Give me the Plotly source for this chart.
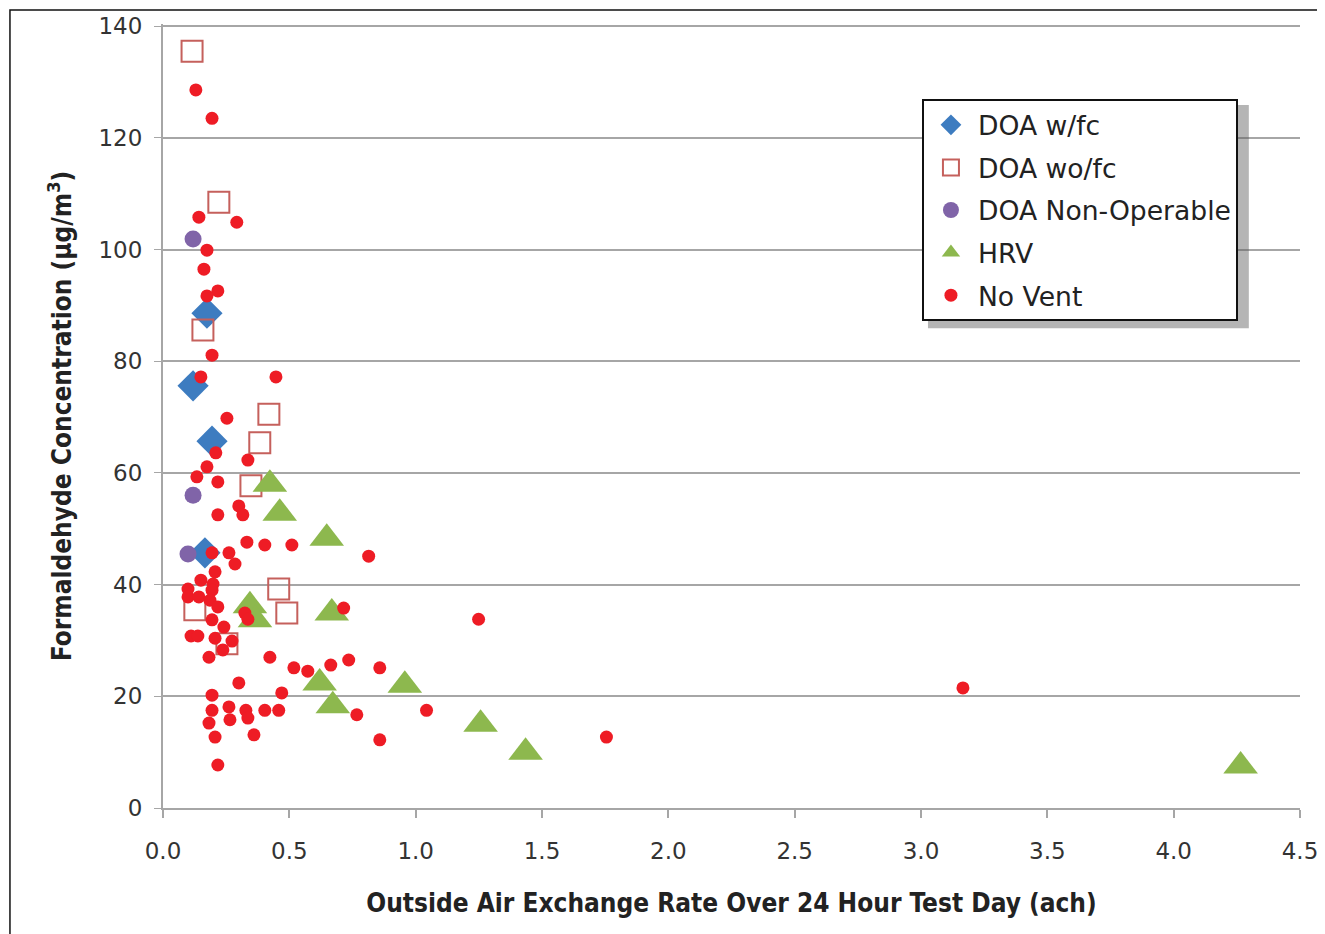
import plotly.graph_objects as go

# ---- data (x = air exchange rate, ach; y = formaldehyde, ug/m3) ----
doa_wfc_x = [0.174, 0.119, 0.194, 0.166]
doa_wfc_y = [88.6, 75.6, 65.7, 45.7]

doa_wofc_x = [0.115, 0.221, 0.158, 0.419, 0.383, 0.348, 0.458, 0.490, 0.126, 0.253]
doa_wofc_y = [135.5, 108.5, 85.6, 70.5, 65.4, 57.7, 39.2, 34.9, 35.5, 29.4]

doa_nonop_x = [0.119, 0.119, 0.099]
doa_nonop_y = [101.9, 56.0, 45.5]

hrv_x = [0.423, 0.462, 0.648, 0.344, 0.364, 0.668, 0.620, 0.672, 0.957, 1.257, 1.435, 4.265]
hrv_y = [58.0, 52.8, 48.3, 36.2, 33.7, 34.9, 22.4, 18.3, 22.0, 15.0, 10.0, 7.5]

novent_x = [
    0.130, 0.194, 0.142, 0.292, 0.174, 0.162, 0.217, 0.174, 0.194, 0.150,
    0.447, 0.253, 0.209, 0.336, 0.174, 0.134, 0.217, 0.300, 0.316, 0.217,
    0.332, 0.403, 0.510,
    0.194, 0.261, 0.285, 0.206, 0.150, 0.198, 0.099, 0.194, 0.099, 0.142,
    0.186, 0.217, 0.324, 0.336, 0.194, 0.241, 0.111, 0.138, 0.206, 0.273,
    0.237, 0.182,
    0.423, 0.518, 0.573, 0.664, 0.735, 0.858, 0.767, 0.858, 1.043, 0.715,
    0.814, 1.249, 1.755, 3.166,
    0.300, 0.194, 0.470, 0.194, 0.261, 0.265, 0.328, 0.336, 0.403, 0.458,
    0.182, 0.206, 0.360, 0.217,
]
novent_y = [
    128.6, 123.5, 105.8, 104.9, 99.9, 96.5, 92.6, 91.7, 81.1, 77.2,
    77.2, 69.8, 63.6, 62.3, 61.1, 59.3, 58.4, 54.1, 52.5, 52.5,
    47.6, 47.1, 47.1,
    45.7, 45.7, 43.7, 42.3, 40.8, 40.1, 39.2, 39.0, 37.8, 37.8,
    37.2, 36.0, 34.9, 33.8, 33.7, 32.4, 30.8, 30.8, 30.4, 29.9,
    28.3, 27.0,
    27.0, 25.1, 24.5, 25.6, 26.5, 25.1, 16.7, 12.2, 17.5, 35.8,
    45.1, 33.8, 12.7, 21.5,
    22.4, 20.2, 20.6, 17.5, 18.1, 15.8, 17.5, 16.1, 17.5, 17.5,
    15.2, 12.7, 13.1, 7.7,
]

x_ticks = [0.0, 0.5, 1.0, 1.5, 2.0, 2.5, 3.0, 3.5, 4.0, 4.5]
y_ticks = [0, 20, 40, 60, 80, 100, 120, 140]

FONT = "DejaVu Sans"
TITLE_FONT = "DejaVu Sans Condensed"

fig = go.Figure()
fig.add_trace(go.Scatter(
    x=doa_wfc_x, y=doa_wfc_y, mode="markers", name="DOA w/fc", legendgroup="a",
    marker=dict(symbol="diamond", size=24, color="#3D7CC0", line=dict(width=0))))
fig.add_trace(go.Scatter(
    x=doa_wofc_x, y=doa_wofc_y, mode="markers", name="DOA wo/fc", legendgroup="b",
    marker=dict(symbol="square-open", size=21, color="#C5605C", line=dict(width=2))))
fig.add_trace(go.Scatter(
    x=doa_nonop_x, y=doa_nonop_y, mode="markers", name="DOA Non-Operable", legendgroup="c",
    marker=dict(symbol="circle", size=17, color="#8064A8", line=dict(width=0))))
fig.add_trace(go.Scatter(
    x=hrv_x, y=hrv_y, mode="markers", name="HRV", legendgroup="d",
    marker=dict(symbol="triangle-up", size=30, color="#8DB84E", line=dict(width=0))))
fig.add_trace(go.Scatter(
    x=novent_x, y=novent_y, mode="markers", name="No Vent", legendgroup="e",
    marker=dict(symbol="circle", size=13, color="#EE1C25", line=dict(width=0))))

# outer frame and legend shadow
fig.add_shape(type="rect", xref="paper", yref="paper",
              x0=-0.1346, x1=1.03, y0=-0.2, y1=1.018,
              line=dict(color="#111111", width=1.5), fillcolor="rgba(0,0,0,0)", layer="below")
fig.add_shape(type="rect", xref="paper", yref="paper",
              x0=0.6728, x1=0.955, y0=0.612, y1=0.8967,
              line=dict(width=0), fillcolor="rgba(90,90,90,0.45)", layer="above")

fig.update_layout(
    width=1325, height=934,
    margin=dict(l=155, r=33, t=16, b=134, autoexpand=False),
    paper_bgcolor="white", plot_bgcolor="white",
    font=dict(family=FONT, color="#333333"),
    showlegend=True,
    legend=dict(
        x=0.6675, y=0.9043, xanchor="left", yanchor="top",
        bgcolor="white", bordercolor="#111111", borderwidth=2,
        font=dict(family=FONT, size=26.6, color="#222222"),
        tracegroupgap=5, traceorder="grouped", itemwidth=44,
    ),
    xaxis=dict(
        range=[0, 4.5], tickvals=x_ticks, tickformat=".1f",
        showgrid=False, zeroline=False,
        showline=True, linecolor="#a6a6a6", linewidth=2,
        ticks="outside", ticklen=8, tickwidth=2, tickcolor="#a6a6a6",
        ticklabelstandoff=13,
        tickfont=dict(family=FONT, size=23, color="#333333"),
        title=dict(text="<b>Outside Air Exchange Rate Over 24 Hour Test Day (ach)</b>",
                   font=dict(family=TITLE_FONT, size=26, color="#222222"), standoff=31),
    ),
    yaxis=dict(
        range=[0, 140.4], tickvals=y_ticks,
        showgrid=True, gridcolor="#a6a6a6", gridwidth=2,
        zeroline=False,
        showline=True, linecolor="#a6a6a6", linewidth=2,
        ticks="outside", ticklen=7, tickwidth=1, tickcolor="#a6a6a6",
        ticklabelstandoff=7,
        tickfont=dict(family=FONT, size=23, color="#333333"),
        title=dict(text="<b>Formaldehyde Concentration (µg/m<sup>3</sup>)</b>",
                   font=dict(family=TITLE_FONT, size=26, color="#222222"), standoff=19),
    ),
)

fig.write_html("out.html")
